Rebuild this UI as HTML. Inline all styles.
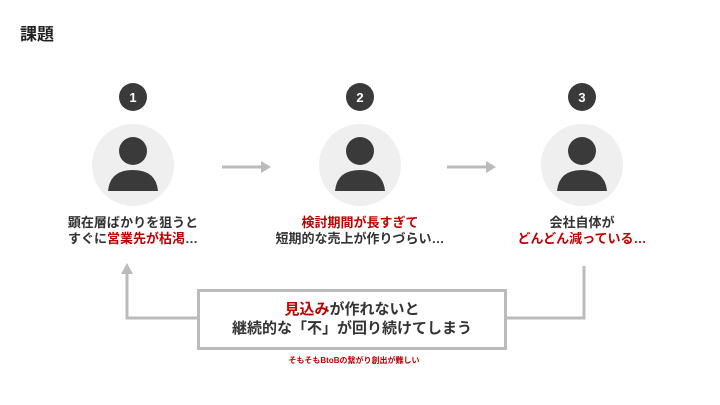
<!DOCTYPE html>
<html><head><meta charset="utf-8"><style>
body{margin:0;width:720px;height:405px;background:#fff;position:relative;overflow:hidden;font-family:"Liberation Sans","Noto Sans CJK JP",sans-serif;}
.t{position:absolute;white-space:nowrap;font-weight:bold;color:#333;}
.r{color:#c00000;}
</style></head><body>
<svg width="720" height="405" style="position:absolute;left:0;top:0">
<g fill="#3a3a3a">
<circle cx="133" cy="97" r="14"/><circle cx="360" cy="97" r="14"/><circle cx="582" cy="97" r="14"/>
</g>
<g fill="#efefef">
<circle cx="133" cy="165" r="41"/><circle cx="360" cy="165" r="41"/><circle cx="582" cy="165" r="41"/>
</g>
<g fill="#3a3a3a">
<circle cx="133" cy="151" r="14"/><path d="M108 191 Q110 170 133 170 Q156 170 158 191 Z"/>
<circle cx="360" cy="151" r="14"/><path d="M335 191 Q337 170 360 170 Q383 170 385 191 Z"/>
<circle cx="582" cy="151" r="14"/><path d="M557 191 Q559 170 582 170 Q605 170 607 191 Z"/>
</g>
<g fill="#fff" font-family="Liberation Sans" font-weight="bold" font-size="13" text-anchor="middle">
<text x="133" y="102">1</text><text x="360" y="102">2</text><text x="582" y="102">3</text>
</g>
<g stroke="#bbb" stroke-width="3" fill="none">
<line x1="222" y1="167" x2="262" y2="167"/><line x1="447" y1="167" x2="487" y2="167"/>
<polyline points="197,318 127,318 127,272"/>
<polyline points="507,318 584,318 584,266"/>
<rect x="198.5" y="290.5" width="307" height="58"/>
</g>
<g fill="#bbb">
<polygon points="261,161 271,167 261,173"/><polygon points="486,161 496,167 486,173"/>
<polygon points="121,274 127,263 133,274"/>
</g>
</svg>
<div class="t" style="font-size:17px;left:20px;top:20px;color:#222">課題</div>
<div class="t" style="font-size:13px;left:133px;top:212px;transform:translateX(-50%)">顕在層ばかりを狙うと</div>
<div class="t" style="font-size:13px;left:133px;top:228px;transform:translateX(-50%)">すぐに<span class="r">営業先が枯渇</span>…</div>
<div class="t r" style="font-size:13px;left:360px;top:212px;transform:translateX(-50%)">検討期間が長すぎて</div>
<div class="t" style="font-size:13px;left:360px;top:228px;transform:translateX(-50%)">短期的な売上が作りづらい…</div>
<div class="t" style="font-size:13px;left:582px;top:212px;transform:translateX(-50%)">会社自体が</div>
<div class="t r" style="font-size:13px;left:582px;top:228px;transform:translateX(-50%)">どんどん減っている…</div>
<div class="t" style="font-size:15px;left:352px;top:298px;transform:translateX(-50%)"><span class="r">見込み</span>が作れないと</div>
<div class="t" style="font-size:15px;left:352px;top:317px;transform:translateX(-50%)">継続的な「不」が回り続けてしまう</div>
<div class="t r" style="font-size:8px;left:354px;top:355px;transform:translateX(-50%)">そもそもBtoBの繋がり創出が難しい</div>
</body></html>
